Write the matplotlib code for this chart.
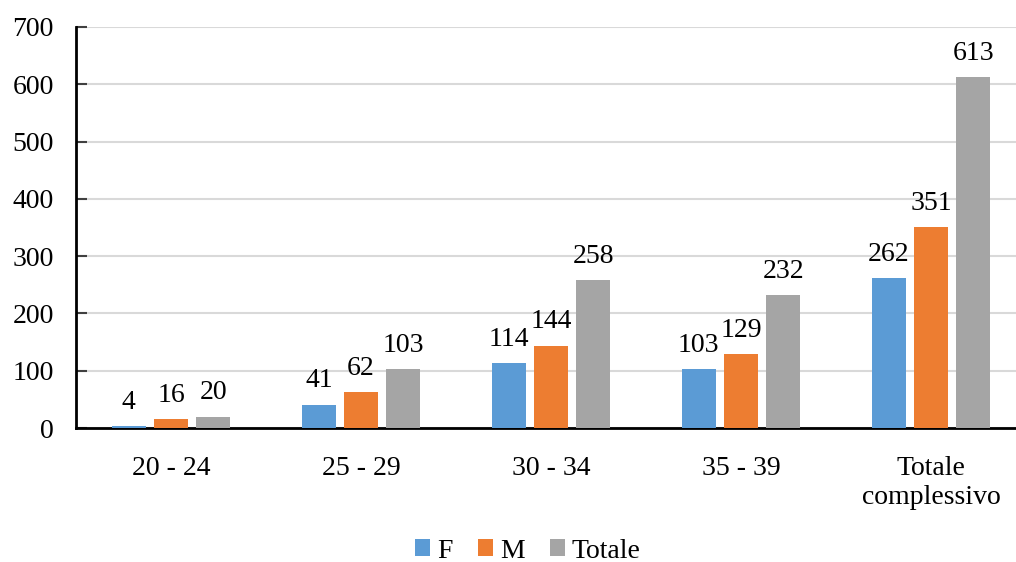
import matplotlib.pyplot as plt
import numpy as np

plt.rcParams['font.family'] = ['Liberation Serif', 'DejaVu Serif']

categories = ['20 - 24', '25 - 29', '30 - 34', '35 - 39', 'Totale\ncomplessivo']
values_f = [4, 41, 114, 103, 262]
values_m = [16, 62, 144, 129, 351]
values_tot = [20, 103, 258, 232, 613]
series_names = ['F', 'M', 'Totale']
colors = ['#5B9BD5', '#ED7D31', '#A5A5A5']

fig = plt.figure(figsize=(10.16, 5.62), dpi=100)
ax = fig.add_axes([76 / 1016, 134 / 562, 950 / 1016, 401 / 562])

x = np.arange(len(categories))
step = 0.222
width = 0.176
for i, (vals, name, col) in enumerate(zip([values_f, values_m, values_tot], series_names, colors)):
    bars = ax.bar(x + (i - 1) * step, vals, width, color=col, label=name, zorder=3)
    for b, v in zip(bars, vals):
        ax.annotate(str(v), (b.get_x() + b.get_width() / 2, v), xytext=(0, 8),
                    textcoords='offset points', ha='center', va='bottom', fontsize=20)

ax.set_xlim(-0.5, 4.5)
ax.set_ylim(0, 700)
ax.set_yticks(range(0, 701, 100))
ax.set_xticks(x)
ax.set_xticklabels(categories, fontsize=20, linespacing=1.2)
ax.tick_params(axis='y', labelsize=20, direction='in', length=8, width=1.5, pad=16, color='#404040')
ax.tick_params(axis='x', length=0, pad=20)
ax.grid(axis='y', color='#D9D9D9', linewidth=1.5, zorder=0)

for s in ['top', 'right']:
    ax.spines[s].set_visible(False)
ax.spines['left'].set_linewidth(2)
ax.spines['bottom'].set_linewidth(2)

fig.legend(loc='center', bbox_to_anchor=(528 / 1016, 1 - 551 / 562), ncol=3, frameon=False,
           fontsize=20, handlelength=0.55, handleheight=0.55, handletextpad=0.25, columnspacing=0.9)

fig.savefig('out.png', dpi=100)
